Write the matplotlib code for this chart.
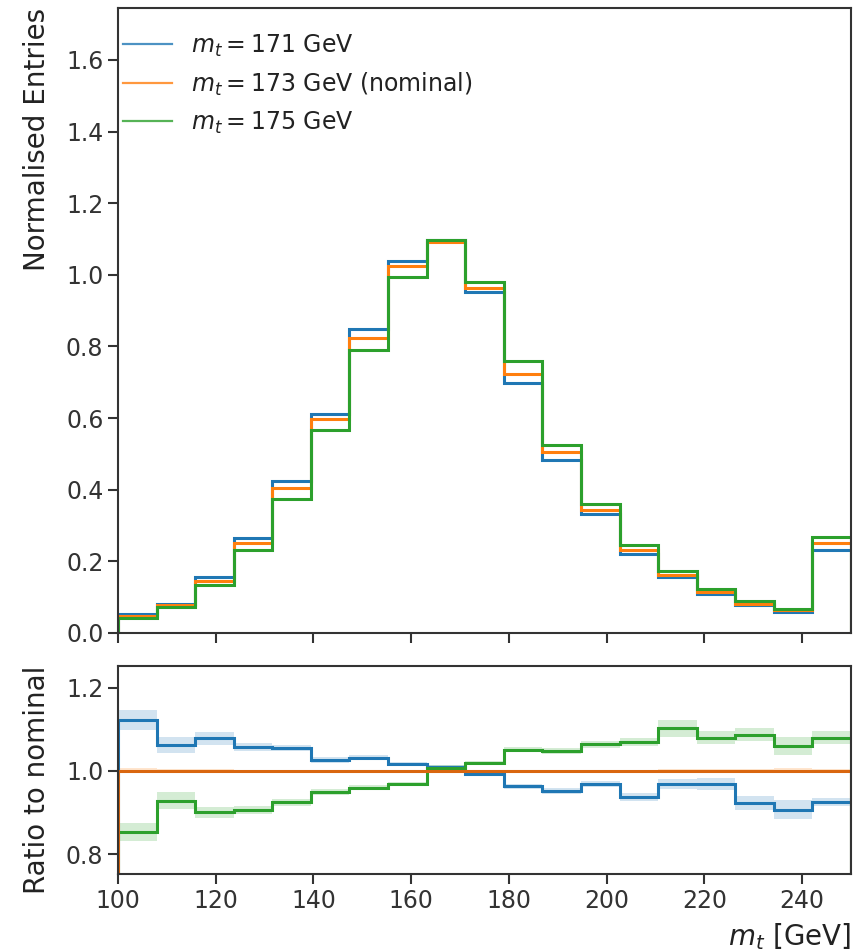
import numpy as np
import matplotlib
matplotlib.use("Agg")
import matplotlib.pyplot as plt

# ---- data ----
bin_edges = np.linspace(100, 250, 20)
labels = [r"$m_t = 171$ GeV", r"$m_t = 173$ GeV (nominal)", r"$m_t = 175$ GeV"]
colors = ["#1f77b4", "#ff7f0e", "#2ca02c"]

h171 = [0.053, 0.081, 0.157, 0.266, 0.424, 0.611, 0.850, 1.040, 1.098, 0.952,
        0.699, 0.483, 0.331, 0.220, 0.155, 0.110, 0.077, 0.059, 0.233]
h173 = [0.047, 0.077, 0.145, 0.250, 0.404, 0.597, 0.825, 1.025, 1.091, 0.964,
        0.724, 0.504, 0.343, 0.233, 0.162, 0.115, 0.081, 0.063, 0.250]
h175 = [0.042, 0.072, 0.134, 0.232, 0.373, 0.568, 0.791, 0.994, 1.098, 0.979,
        0.759, 0.524, 0.359, 0.247, 0.173, 0.122, 0.088, 0.067, 0.269]

r171 = [1.122, 1.062, 1.078, 1.058, 1.055, 1.027, 1.031, 1.016, 1.010, 0.992,
        0.963, 0.952, 0.968, 0.937, 0.968, 0.968, 0.923, 0.907, 0.925]
r175 = [0.853, 0.928, 0.900, 0.906, 0.924, 0.950, 0.959, 0.968, 1.008, 1.018,
        1.051, 1.047, 1.064, 1.070, 1.102, 1.080, 1.087, 1.059, 1.080]
r173 = [1.0] * 19

e171 = [0.025, 0.020, 0.015, 0.010, 0.008, 0.007, 0.006, 0.005, 0.005, 0.005,
        0.006, 0.007, 0.008, 0.010, 0.012, 0.014, 0.017, 0.022, 0.010]
e175 = [0.022, 0.020, 0.014, 0.010, 0.008, 0.007, 0.006, 0.005, 0.005, 0.005,
        0.006, 0.007, 0.008, 0.010, 0.020, 0.015, 0.015, 0.022, 0.015]
e173 = [0.006, 0.005, 0.004, 0.003, 0.003, 0.002, 0.002, 0.002, 0.002, 0.002,
        0.002, 0.002, 0.003, 0.003, 0.004, 0.004, 0.005, 0.006, 0.004]

# ---- style ----
plt.rcParams.update({
    "font.family": ["DejaVu Sans"],
    "font.size": 17,
    "axes.labelsize": 20,
    "axes.linewidth": 1.5,
    "xtick.major.width": 1.5,
    "ytick.major.width": 1.5,
    "xtick.major.size": 7,
    "ytick.major.size": 7,
    "axes.edgecolor": "#333333",
    "text.color": "#222222",
    "axes.labelcolor": "#222222",
    "xtick.color": "#333333",
    "ytick.color": "#333333",
})

W, H = 858, 952
fig = plt.figure(figsize=(W / 100, H / 100), dpi=100)
ax = fig.add_axes([118 / W, 1 - 633 / H, (851 - 118) / W, (633 - 8) / H])
axr = fig.add_axes([118 / W, 1 - 874 / H, (851 - 118) / W, (874 - 666) / H], sharex=ax)

lw = 2.2
for h, c, lab in zip([h171, h173, h175], colors, labels):
    ax.stairs(h, bin_edges, color=c, lw=lw, label=lab)

ax.set_xlim(100, 250)
ax.set_ylim(0, 1.745)
ax.set_yticks(np.arange(0, 1.61, 0.2))
ax.set_ylabel("Normalised Entries", loc="top", labelpad=11)
ax.tick_params(labelbottom=False)
leg = ax.legend(loc="upper left", frameon=False, handlelength=2.08,
                labelspacing=0.5, borderaxespad=0.0, borderpad=0.2,
                bbox_to_anchor=(0.0, 0.968))
for line in leg.get_lines():
    line.set_linewidth(1.6)
    line.set_alpha(0.8)

for r, e, c in zip([r171, r173, r175], [e171, e173, e175], colors):
    r = np.array(r)
    e = np.array(e)
    axr.stairs(r + e, bin_edges, baseline=r - e, fill=True, color=c, alpha=0.2, lw=0)
for r, c in zip([r171, r175, r173], [colors[0], colors[2], "#d9660f"]):
    axr.stairs(r, bin_edges, color=c, lw=lw)

axr.set_ylim(0.752, 1.252)
axr.set_yticks([0.8, 1.0, 1.2])
axr.set_xticks(np.arange(100, 241, 20))
axr.set_ylabel("Ratio to nominal", loc="top", labelpad=11)
axr.set_xlabel(r"$m_t$ [GeV]", loc="right", labelpad=6)

fig.align_ylabels([ax, axr])
fig.savefig("out.png", dpi=100)
